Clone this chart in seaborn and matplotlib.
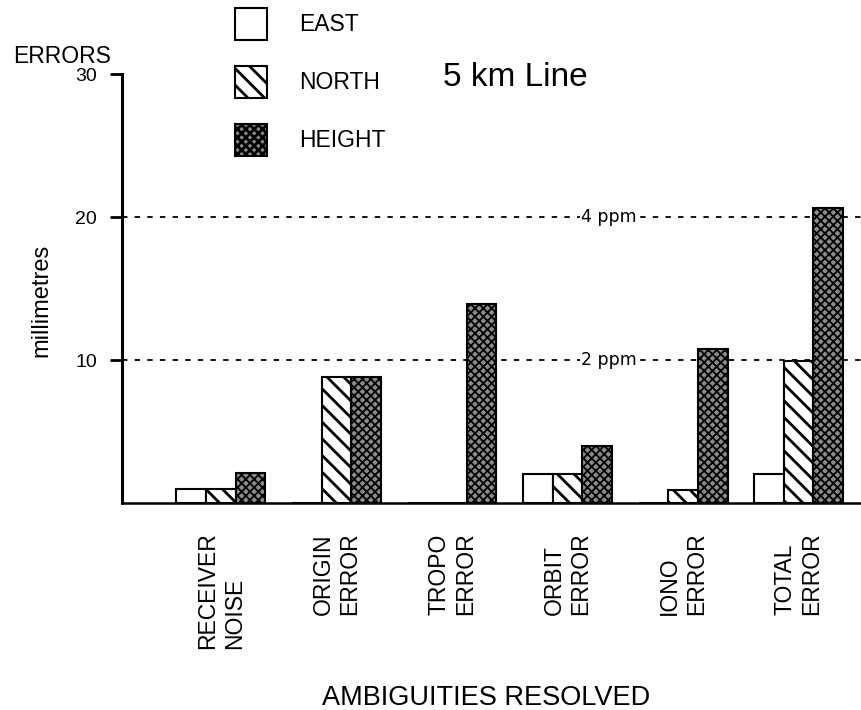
import matplotlib
matplotlib.use("Agg")
import matplotlib.pyplot as plt
import matplotlib.patches as mpatches
import matplotlib.transforms as mtransforms
import pandas as pd
import seaborn as sns

# Error budget for the 5 km line (millimetres)
categories = ["RECEIVER\nNOISE", "ORIGIN\nERROR", "TROPO\nERROR",
              "ORBIT\nERROR", "IONO\nERROR", "TOTAL\nERROR"]
components = ["EAST", "NORTH", "HEIGHT"]
east = [1.0, 0.0, 0.0, 2.0, 0.0, 2.0]
north = [1.0, 8.8, 0.0, 2.0, 0.9, 9.9]
height = [2.1, 8.8, 13.9, 4.0, 10.8, 20.6]
y_ticks = [10, 20, 30]
ppm_levels = [10, 20]
ppm_labels = ["2 ppm", "4 ppm"]

sns.set_theme(style="white")
plt.rcParams["font.family"] = ["Liberation Sans", "DejaVu Sans"]
plt.rcParams["hatch.linewidth"] = 2.0
plt.rcParams["hatch.color"] = "black"
plt.rcParams["text.color"] = "black"
plt.rcParams["axes.labelcolor"] = "black"
plt.rcParams["xtick.color"] = "black"
plt.rcParams["ytick.color"] = "black"

df = pd.DataFrame({
    "source": categories * 3,
    "component": [c for c in components for _ in categories],
    "mm": east + north + height,
})

fig = plt.figure(figsize=(8.61, 7.10), dpi=100)
ax = fig.add_axes([122 / 861, 1 - 503 / 710, 1 - 122 / 861, (503 - 74) / 710])

sns.barplot(data=df, x="source", y="mm", hue="component",
            order=categories, hue_order=components,
            palette=["white"] * 3, saturation=1, width=0.77,
            edgecolor="black", linewidth=1.5, errorbar=None,
            legend=False, ax=ax, zorder=3)

styles = {
    "EAST": dict(facecolor="white", hatch=None, hlw=1.0),
    "NORTH": dict(facecolor="white", hatch="\\\\", hlw=2.0),
    "HEIGHT": dict(facecolor="#8a8a8a", hatch="xxxx", hlw=1.3),
}


def apply_style(patch, st):
    patch.set_facecolor(st["facecolor"])
    patch.set_edgecolor("black")
    if st["hatch"]:
        patch.set_hatch(st["hatch"])
        if hasattr(patch, "set_hatch_linewidth"):
            patch.set_hatch_linewidth(st["hlw"])


for comp, container in zip(components, ax.containers):
    for bar in container:
        apply_style(bar, styles[comp])

# reference lines at 2 ppm and 4 ppm of the baseline
blend = mtransforms.blended_transform_factory(ax.transAxes, ax.transData)
for lvl, lab in zip(ppm_levels, ppm_labels):
    ax.axhline(lvl, color="black", lw=1.3, ls=(0, (3, 4)), zorder=1)
    ax.text(0.659, lvl, lab, transform=blend, ha="center", va="center",
            fontsize=12.5, family="DejaVu Sans", zorder=2,
            bbox=dict(facecolor="white", edgecolor="none", pad=1.0))

ax.set_xlim(-0.856, 5.54)
ax.set_ylim(0, 30)
ax.set_yticks(y_ticks)
ax.set_xlabel("")
ax.set_ylabel("")

ax.tick_params(axis="y", direction="out", length=9, width=2, pad=9,
               labelsize=14, colors="black", left=True)
ax.tick_params(axis="x", length=0, pad=21, labelsize=16.5, colors="black")
for lbl in ax.get_xticklabels():
    lbl.set_rotation(90)
    lbl.set_multialignment("left")

sns.despine(ax=ax)
ax.spines["left"].set_linewidth(2.2)
ax.spines["bottom"].set_linewidth(1.8)
for s in ("left", "bottom"):
    ax.spines[s].set_color("black")

# legend
handles = []
for comp in components:
    st = styles[comp]
    p = mpatches.Patch(facecolor=st["facecolor"], edgecolor="black",
                       hatch=st["hatch"], linewidth=1.5, label=comp)
    if st["hatch"] and hasattr(p, "set_hatch_linewidth"):
        p.set_hatch_linewidth(st["hlw"])
    handles.append(p)
fig.legend(handles=handles, loc="upper left",
           bbox_to_anchor=(235 / 861, 1 - 8 / 710), frameon=False,
           fontsize=16.5, handlelength=1.4, handleheight=1.75,
           handletextpad=1.4, labelspacing=1.15, borderpad=0,
           borderaxespad=0)

fig.text(13 / 861, 1 - 63 / 710, "ERRORS", fontsize=16.5, va="baseline")
fig.text(41 / 861, 1 - 300 / 710, "millimetres", rotation=90,
         ha="center", va="center", fontsize=17)
fig.text(443 / 861, 1 - 86 / 710, "5 km Line", fontsize=24, va="baseline")
fig.text(322 / 861, 1 - 705 / 710, "AMBIGUITIES RESOLVED", fontsize=19.5,
         va="baseline")

fig.savefig("out.png", dpi=100)
